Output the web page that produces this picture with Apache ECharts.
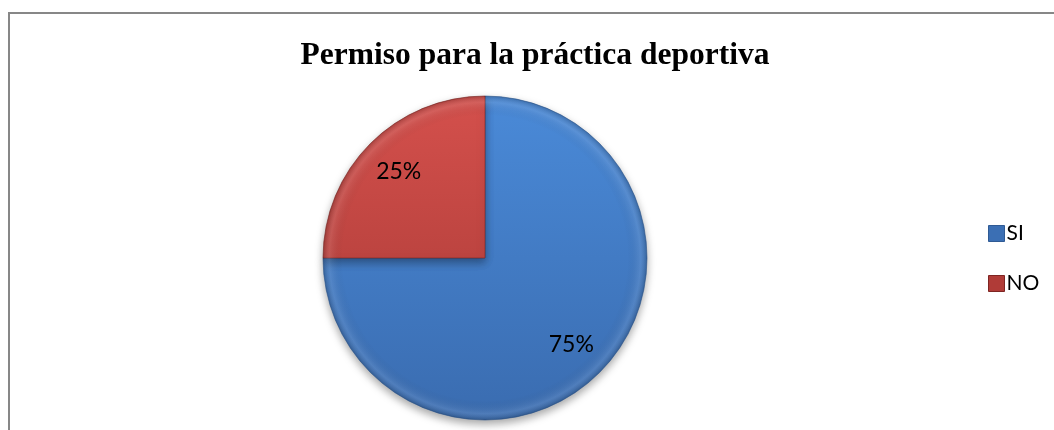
<!DOCTYPE html>
<html>
<head>
<meta charset="utf-8">
<script src="https://cdn.jsdelivr.net/npm/echarts@6/dist/echarts.min.js"></script>
<style>
  html, body { margin: 0; padding: 0; background: #ffffff; }
  #chart { width: 1054px; height: 430px; }
</style>
</head>
<body>
<div id="chart"></div>
<script>
// Respuestas sobre el permiso para la práctica deportiva
const categories = ['SI', 'NO'];
const values = [75, 25];
const chartTitle = 'Permiso para la práctica deportiva';

const cx = 485, cy = 258, R = 162;

const fills = {
  SI: { top: '#4a8ad8', bottom: '#3a6cb0', edge: '#2f5a94', key: '#3b6fb4' },
  NO: { top: '#d4504c', bottom: '#a53834', edge: '#7e2522', key: '#b03b37' }
};

function linearFill(c) {
  return {
    type: 'linear', x: 0, y: cy - R, x2: 0, y2: cy + R, global: true,
    colorStops: [{ offset: 0, color: c.top }, { offset: 1, color: c.bottom }]
  };
}

const baseData = categories.map((name, i) => ({
  name,
  value: values[i],
  itemStyle: { color: linearFill(fills[name]), borderColor: fills[name].edge, borderWidth: 0.6 }
}));

const total = values.reduce((a, b) => a + b, 0);

const chart = echarts.init(document.getElementById('chart'), null, { renderer: 'canvas' });
chart.setOption({
  animation: false,
  title: {
    text: chartTitle,
    left: 530, top: 35, textAlign: 'center',
    textStyle: { fontFamily: 'Liberation Serif', fontWeight: 'bold', fontSize: 31.5, color: '#000' }
  },
  legend: {
    orient: 'vertical',
    left: 983, top: 218,
    icon: 'rect',
    itemWidth: 16, itemHeight: 16, itemGap: 29,
    data: categories.map(name => ({
      name,
      itemStyle: { color: fills[name].key, borderColor: fills[name].edge, borderWidth: 1 }
    })),
    textStyle: { fontFamily: 'Lato', fontSize: 21, lineHeight: 16, color: '#000', padding: [2, 0, 0, -3] }
  },
  graphic: [{
    type: 'rect', silent: true, z: -1,
    shape: { x: 9, y: 13, width: 1100, height: 500 },
    style: { fill: 'none', stroke: '#878787', lineWidth: 2 }
  }],
  series: [
    {
      name: 'base', type: 'pie', center: [cx, cy], radius: [0, R],
      startAngle: 90, clockwise: true, silent: true,
      label: { show: false }, labelLine: { show: false },
      itemStyle: { shadowBlur: 8, shadowOffsetY: 4, shadowColor: 'rgba(0,0,0,0.35)' },
      data: baseData
    },
    {
      // bevel shading along the rim
      name: 'rim', type: 'pie', center: [cx, cy], radius: [0, R],
      startAngle: 90, clockwise: true, silent: true,
      label: { show: false }, labelLine: { show: false },
      itemStyle: {
        color: {
          type: 'radial', x: cx, y: cy, r: R, global: true,
          colorStops: [
            { offset: 0, color: 'rgba(0,0,0,0)' },
            { offset: 0.88, color: 'rgba(0,0,0,0)' },
            { offset: 0.96, color: 'rgba(255,255,255,0.10)' },
            { offset: 1, color: 'rgba(0,0,0,0.18)' }
          ]
        }
      },
      data: categories.map((name, i) => ({ name, value: values[i] }))
    },
    {
      // percentage labels
      name: 'labels', type: 'pie', center: [cx, cy], radius: [76, R],
      startAngle: 90, clockwise: true, silent: true,
      itemStyle: { color: 'rgba(0,0,0,0)' },
      labelLine: { show: false },
      label: {
        show: true, position: 'inside',
        formatter: p => Math.round(p.value / total * 100) + '%',
        fontFamily: 'Lato', fontSize: 23, color: '#000'
      },
      data: categories.map((name, i) => ({ name, value: values[i] }))
    }
  ]
});
</script>
</body>
</html>
